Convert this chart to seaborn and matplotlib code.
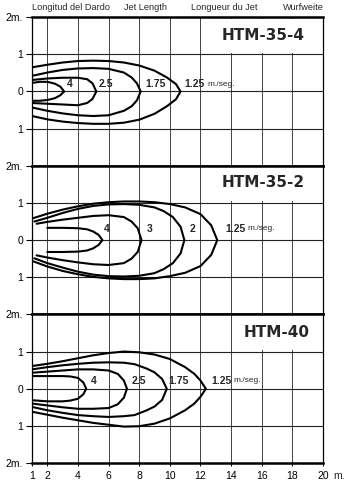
import numpy as np
import pandas as pd
import matplotlib
matplotlib.use("Agg")
import matplotlib.pyplot as plt
import seaborn as sns
from matplotlib.patches import Rectangle

# ---------------- data ----------------
HEADERS = ["Longitud del Dardo", "Jet Length", "Longueur du Jet", "Wurfweite"]
MODELS = ["HTM-35-4", "HTM-35-2", "HTM-40"]
X_TICKS = [1, 2, 4, 6, 8, 10, 12, 14, 16, 18, 20]

# Panel 1 : HTM-35-4   (levels 1.25, 1.75, 2.5, 4 m/s)
P1_LEVELS = ["1.25", "1.75", "2.5", "4"]
P1_125_X = [1, 2, 3, 4, 5, 6, 7, 8, 9, 9.8, 10.4, 10.7]
P1_125_UP = [0.65, 0.72, 0.78, 0.82, 0.83, 0.82, 0.78, 0.70, 0.56, 0.38, 0.20, 0]
P1_125_LO = [-0.66, -0.75, -0.81, -0.85, -0.87, -0.87, -0.84, -0.76, -0.60, -0.40, -0.21, 0]
P1_175_X = [1, 2, 3, 4, 5, 6, 7, 7.5, 7.85, 8.1]
P1_175_UP = [0.42, 0.51, 0.58, 0.62, 0.63, 0.61, 0.51, 0.38, 0.22, 0]
P1_175_LO = [-0.43, -0.52, -0.59, -0.64, -0.66, -0.64, -0.52, -0.40, -0.24, 0]
P1_25_X = [1, 2, 3, 4, 4.6, 4.95, 5.2]
P1_25_UP = [0.31, 0.35, 0.37, 0.37, 0.33, 0.22, 0]
P1_25_LO = [-0.31, -0.33, -0.35, -0.37, -0.31, -0.20, 0]
P1_4_X = [1, 1.5, 2, 2.5, 2.85, 3.1]
P1_4_UP = [0.23, 0.26, 0.26, 0.21, 0.13, 0]
P1_4_LO = [-0.25, -0.25, -0.23, -0.18, -0.10, 0]

# Panel 2 : HTM-35-2   (levels 1.25, 2, 3, 4 m/s)
P2_LEVELS = ["1.25", "2", "3", "4"]
P2_125_X = [1, 2, 3, 4, 5, 6, 7, 8, 9, 10, 11, 12, 12.7, 13.1]
P2_125_UP = [0.58, 0.71, 0.82, 0.91, 0.98, 1.02, 1.04, 1.04, 1.02, 0.97, 0.88, 0.70, 0.40, 0]
P2_125_LO = [-0.56, -0.71, -0.83, -0.92, -0.99, -1.03, -1.05, -1.05, -1.03, -0.97, -0.88, -0.70, -0.40, 0]
P2_2_X = [1.15, 2, 3, 4, 5, 6, 7, 8, 9, 9.6, 10.2, 10.7, 10.95]
P2_2_UP = [0.50, 0.60, 0.73, 0.84, 0.92, 0.96, 0.97, 0.95, 0.88, 0.78, 0.62, 0.36, 0]
P2_2_LO = [-0.49, -0.62, -0.74, -0.85, -0.93, -0.97, -0.98, -0.96, -0.89, -0.78, -0.62, -0.36, 0]
P2_3_X = [1.3, 2, 3, 4, 5, 6, 7, 7.5, 7.9, 8.15]
P2_3_UP = [0.44, 0.49, 0.55, 0.60, 0.65, 0.67, 0.62, 0.50, 0.32, 0]
P2_3_LO = [-0.41, -0.47, -0.54, -0.60, -0.65, -0.67, -0.62, -0.50, -0.32, 0]
P2_4_X = [2.0, 3, 4, 4.6, 5.0, 5.35, 5.6]
P2_4_UP = [0.33, 0.33, 0.32, 0.29, 0.23, 0.14, 0]
P2_4_LO = [-0.32, -0.32, -0.31, -0.28, -0.22, -0.13, 0]

# Panel 3 : HTM-40   (levels 1.25, 1.75, 2.5, 4 m/s)
P3_LEVELS = ["1.25", "1.75", "2.5", "4"]
P3_125_X = [1, 2, 3, 4, 5, 6, 7, 8, 9, 10, 11, 11.6, 12.0, 12.35]
P3_125_UP = [0.61, 0.67, 0.74, 0.82, 0.90, 0.96, 1.0, 0.98, 0.92, 0.80, 0.58, 0.40, 0.22, 0]
P3_125_LO = [-0.62, -0.70, -0.78, -0.85, -0.92, -0.97, -1.02, -1.01, -0.94, -0.80, -0.58, -0.40, -0.22, 0]
P3_175_X = [1, 2, 3, 4, 5, 6, 7, 7.7, 8.5, 9.0, 9.5, 9.8]
P3_175_UP = [0.52, 0.58, 0.63, 0.67, 0.70, 0.71, 0.70, 0.66, 0.54, 0.44, 0.26, 0]
P3_175_LO = [-0.49, -0.58, -0.65, -0.71, -0.74, -0.76, -0.74, -0.71, -0.58, -0.48, -0.30, 0]
P3_25_X = [1, 2, 3, 4, 5, 6, 6.6, 7.0, 7.2]
P3_25_UP = [0.43, 0.46, 0.49, 0.52, 0.52, 0.49, 0.40, 0.22, 0]
P3_25_LO = [-0.40, -0.45, -0.50, -0.54, -0.54, -0.52, -0.42, -0.24, 0]
P3_4_X = [1, 2, 3, 3.5, 4.0, 4.35, 4.54]
P3_4_UP = [0.34, 0.34, 0.34, 0.33, 0.29, 0.17, 0]
P3_4_LO = [-0.31, -0.34, -0.34, -0.32, -0.27, -0.15, 0]

# label positions (x) for each level, per panel; y for the row of labels
P1_LABEL_X = [10.98, 9.05, 5.8, 3.45]
P2_LABEL_X = [13.6, 11.5, 8.7, 5.9]
P3_LABEL_X = [12.7, 10.6, 8.0, 5.05]
LABEL_Y = [0.2, 0.3, 0.22]

# --------------------------------------------------------------
def closed(xs, up, lo):
    x = list(xs) + list(reversed(xs[:-1]))
    y = list(up) + list(reversed(lo[:-1]))
    return x, y

panels = [
    (P1_LEVELS, [(P1_125_X, P1_125_UP, P1_125_LO), (P1_175_X, P1_175_UP, P1_175_LO),
                 (P1_25_X, P1_25_UP, P1_25_LO), (P1_4_X, P1_4_UP, P1_4_LO)], P1_LABEL_X),
    (P2_LEVELS, [(P2_125_X, P2_125_UP, P2_125_LO), (P2_2_X, P2_2_UP, P2_2_LO),
                 (P2_3_X, P2_3_UP, P2_3_LO), (P2_4_X, P2_4_UP, P2_4_LO)], P2_LABEL_X),
    (P3_LEVELS, [(P3_125_X, P3_125_UP, P3_125_LO), (P3_175_X, P3_175_UP, P3_175_LO),
                 (P3_25_X, P3_25_UP, P3_25_LO), (P3_4_X, P3_4_UP, P3_4_LO)], P3_LABEL_X),
]

sns.set_theme(style="white")
NARROW = ["Liberation Sans Narrow", "Liberation Sans", "DejaVu Sans"]
plt.rcParams["font.family"] = NARROW

fig, axes = plt.subplots(3, 1, figsize=(3.48, 4.91), dpi=100, sharex=True,
                         gridspec_kw=dict(hspace=0))
fig.subplots_adjust(left=0.092, right=0.928, top=0.965, bottom=0.057)

box_start = [12.12, 12.12, 14.1]
model_x = [16.1, 16.1, 17.0]
model_y = [1.52, 1.55, 1.5]

for i, ax in enumerate(axes):
    levels, curves, lab_x = panels[i]
    rows = []
    for lev, (xs, up, lo) in zip(levels, curves):
        cx, cy = closed(xs, up, lo)
        rows.append(pd.DataFrame({"x": cx, "y": cy, "curve": lev}))
    df = pd.concat(rows, ignore_index=True)
    sns.lineplot(data=df, x="x", y="y", units="curve", estimator=None, sort=False,
                 color="black", lw=1.5, ax=ax, legend=False, zorder=3)

    ax.set_xlim(1, 20)
    ax.set_ylim(-2, 2)
    for gx in X_TICKS[1:-1]:
        ax.axvline(gx, color="#444444", lw=0.7, zorder=1)
    for gy in (-1, 0, 1):
        ax.axhline(gy, color="#222222", lw=0.8, zorder=1)
    ax.add_patch(Rectangle((box_start[i], 1.04), 19.97 - box_start[i], 0.92,
                           facecolor="white", edgecolor="none", zorder=2))
    ax.text(model_x[i], model_y[i], MODELS[i], ha="center", va="center",
            fontsize=11, fontweight="bold", family="DejaVu Sans", zorder=4)

    for k, (lev, lx) in enumerate(zip(levels, lab_x)):
        if k == 0:
            ax.text(lx, LABEL_Y[i], lev, ha="left", va="center", fontsize=7.5,
                    fontweight="bold", family="Liberation Sans", zorder=4)
            ax.annotate("m./seg.", xy=(lx, LABEL_Y[i]), xytext=(16, 0),
                        textcoords="offset points", ha="left", va="center",
                        fontsize=6, zorder=4)
        else:
            ax.text(lx, LABEL_Y[i], lev, ha="center", va="center", fontsize=7.5,
                    fontweight="bold", family="Liberation Sans", zorder=4)

    for side in ("top", "bottom"):
        ax.spines[side].set_linewidth(1.8)
        ax.spines[side].set_color("black")
    for side in ("left", "right"):
        ax.spines[side].set_linewidth(0.9)
        ax.spines[side].set_color("black")
        ax.spines[side].set_visible(True)

    if i < 2:
        yt = [2, 1, 0, -1]
        yl = ["2m.", "1", "0", "1"]
    else:
        yt = [2, 1, 0, -1, -2]
        yl = ["2m.", "1", "0", "1", "2m."]
    ax.set_yticks(yt)
    ax.set_yticklabels(yl)
    ax.tick_params(axis="y", left=True, length=4, width=0.8, pad=2.5,
                   labelsize=7.5, colors="black")
    ax.set_xlabel("")
    ax.set_ylabel("")

axes[-1].set_xticks(X_TICKS)
axes[-1].set_xticklabels([str(v) for v in X_TICKS])
axes[-1].tick_params(axis="x", bottom=True, length=2, width=0.7, pad=3.5,
                     labelsize=7.5, colors="black")
for ax in axes[:-1]:
    ax.tick_params(axis="x", bottom=False, labelbottom=False)

fig.text(333 / 348, 1 - 476 / 491, "m.", ha="left", va="center", fontsize=7.5)

hdr_x = [32, 124, 191, 283]
for h, hx in zip(HEADERS, hdr_x):
    fig.text(hx / 348, 1 - 8 / 491, h, ha="left", va="center", fontsize=6.6)

fig.savefig("out.png", dpi=100)
